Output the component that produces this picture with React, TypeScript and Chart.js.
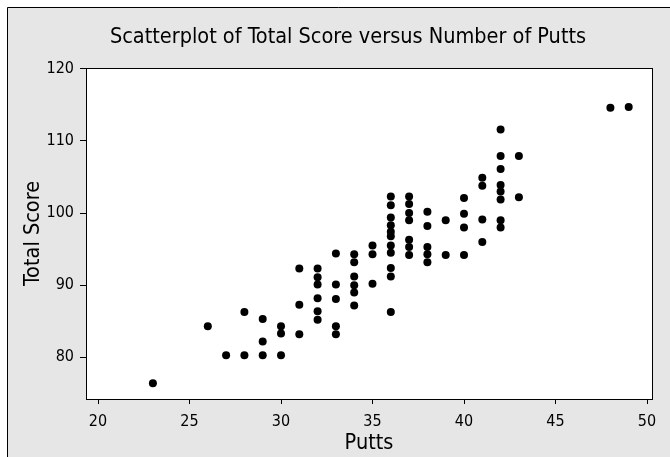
import React, { useEffect, useRef } from "react";
import { Chart, registerables } from "chart.js";

Chart.register(...registerables);

const chartTitle = "Scatterplot of Total Score versus Number of Putts";
const xTitle = "Putts";
const yTitle = "Total Score";

const putts = [
  23,
  26,
  27,
  28, 28,
  29, 29, 29,
  30, 30, 30,
  31, 31, 31,
  32, 32, 32, 32, 32, 32,
  33, 33, 33, 33, 33,
  34, 34, 34, 34, 34, 34,
  35, 35, 35,
  36, 36, 36, 36, 36, 36, 36, 36, 36, 36, 36,
  37, 37, 37, 37, 37, 37, 37,
  38, 38, 38, 38, 38,
  39, 39,
  40, 40, 40, 40,
  41, 41, 41, 41,
  42, 42, 42, 42, 42, 42, 42, 42,
  43, 43,
  48,
  49,
];

const scores = [
  76.4,
  84.3,
  80.3,
  86.3, 80.3,
  85.3, 82.2, 80.3,
  84.3, 83.3, 80.3,
  92.3, 87.3, 83.2,
  92.3, 91.1, 90.1, 88.2, 86.4, 85.2,
  94.4, 90.1, 88.1, 84.3, 83.2,
  94.3, 93.2, 91.2, 90.0, 89.0, 87.2,
  95.5, 94.3, 90.2,
  102.3, 101.1, 99.4, 98.3, 97.4, 96.8, 95.5, 94.5, 92.4, 91.2, 86.3,
  102.3, 101.25, 100.0, 99.0, 96.3, 95.3, 94.2,
  100.2, 98.2, 95.3, 94.3, 93.2,
  99.0, 94.2,
  102.1, 99.9, 98.0, 94.2,
  104.9, 103.8, 99.1, 96.0,
  111.6, 107.9, 106.1, 103.9, 103.0, 101.9, 99.0, 98.0,
  107.9, 102.2,
  114.6,
  114.7,
];

const xMin = 19.344;
const xMax = 50.273;
const xStep = 5;
const yMin = 74.22;
const yMax = 120.12;
const yStep = 10;

const FONT = "'Liberation Sans Narrow', 'Arial Narrow', 'DejaVu Sans Condensed', sans-serif";

const framePlugin = {
  id: "frame",
  beforeDraw(chart: any) {
    const { ctx, width, height } = chart;
    const a = chart.chartArea;
    ctx.save();
    ctx.fillStyle = "#ffffff";
    ctx.fillRect(0, 0, width, height);
    ctx.fillStyle = "#e6e6e6";
    ctx.fillRect(7, 7, width - 7, height - 7);
    ctx.strokeStyle = "#000000";
    ctx.lineWidth = 1;
    ctx.beginPath();
    ctx.moveTo(7.5, height);
    ctx.lineTo(7.5, 7.5);
    ctx.lineTo(width, 7.5);
    ctx.stroke();
    ctx.fillStyle = "#ffffff";
    ctx.fillRect(a.left, a.top, a.right - a.left, a.bottom - a.top);
    ctx.restore();
  },
  beforeDatasetsDraw(chart: any) {
    const { ctx } = chart;
    const a = chart.chartArea;
    ctx.save();
    ctx.strokeStyle = "#000000";
    ctx.lineWidth = 1;
    ctx.strokeRect(Math.round(a.left) + 0.5, Math.round(a.top) + 0.5, Math.round(a.right - a.left), Math.round(a.bottom - a.top));
    ctx.restore();
  },
  afterDraw(chart: any) {
    const { ctx } = chart;
    ctx.save();
    ctx.fillStyle = "#000000";
    ctx.font = `21.5px ${FONT}`;
    ctx.textAlign = "center";
    ctx.textBaseline = "middle";
    ctx.fillText(chartTitle, 348, 37.5);
    ctx.restore();
  },
};

export default function App() {
  const ref = useRef<HTMLCanvasElement | null>(null);

  useEffect(() => {
    if (!ref.current) return;
    const points = putts.map((p, i) => ({ x: p, y: scores[i] }));
    const chart = new Chart(ref.current, {
      type: "scatter",
      data: {
        datasets: [
          {
            data: points,
            backgroundColor: "#000000",
            borderWidth: 0,
            pointRadius: 4,
            pointHoverRadius: 4,
          },
        ],
      },
      plugins: [framePlugin],
      options: {
        animation: false,
        responsive: false,
        devicePixelRatio: 1,
        layout: { padding: { top: 68, right: 18, left: 0, bottom: 0 } },
        plugins: {
          legend: { display: false },
          tooltip: { enabled: false },
          title: { display: false },
        },
        scales: {
          x: {
            type: "linear",
            min: xMin,
            max: xMax,
            ticks: {
              stepSize: xStep,
              includeBounds: false,
              color: "#000000",
              padding: 8,
              maxRotation: 0,
              font: { family: FONT, size: 16 },
            },
            grid: {
              drawOnChartArea: false,
              drawTicks: true,
              tickLength: 5,
              color: "#000000",
            },
            border: { display: true, color: "#000000" },
            title: {
              display: true,
              text: xTitle,
              color: "#000000",
              font: { family: FONT, size: 21.5, lineHeight: 1.2 },
              padding: { top: 0, bottom: 1 },
            },
            afterFit(scale: any) {
              scale.height = 58;
            },
          },
          y: {
            type: "linear",
            min: yMin,
            max: yMax,
            ticks: {
              stepSize: yStep,
              includeBounds: false,
              color: "#000000",
              padding: 6,
              font: { family: FONT, size: 16 },
            },
            grid: {
              drawOnChartArea: false,
              drawTicks: true,
              tickLength: 6,
              color: "#000000",
            },
            border: { display: true, color: "#000000" },
            title: {
              display: true,
              text: yTitle,
              color: "#000000",
              font: { family: FONT, size: 21.5, lineHeight: 1.2 },
              padding: { top: 20.6, bottom: 0 },
            },
            afterFit(scale: any) {
              scale.width = 86;
            },
          },
        },
      },
    } as any);
    return () => chart.destroy();
  }, []);

  return (
    <div style={{ position: "absolute", left: 0, top: 0, width: 670, height: 457 }}>
      <canvas ref={ref} width={670} height={457} style={{ display: "block" }} />
    </div>
  );
}
